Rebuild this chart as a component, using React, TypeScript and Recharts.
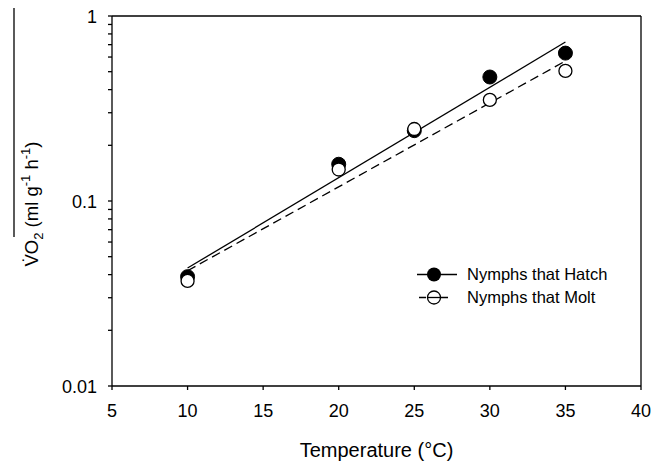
import { ComposedChart, XAxis, YAxis, Scatter, Line, ReferenceLine, Legend } from "recharts";

const FONT = '"Liberation Sans", Arial, sans-serif';

// measurements
const temps = [10, 20, 25, 30, 35];
const hatchVO2 = [0.039, 0.158, 0.24, 0.468, 0.63];
const moltVO2 = [0.037, 0.148, 0.245, 0.352, 0.505];

// regression lines (end points)
const fitTemps = [10, 35];
const hatchFitVO2 = [0.0434, 0.723];
const moltFitVO2 = [0.042, 0.571];

const xTicks = [5, 10, 15, 20, 25, 30, 35, 40];
const yTicks = [
  0.01, 0.02, 0.03, 0.04, 0.05, 0.06, 0.07, 0.08, 0.09,
  0.1, 0.2, 0.3, 0.4, 0.5, 0.6, 0.7, 0.8, 0.9, 1,
];
const yTickLabels = ["0.01", "0.1", "1"];

const hatchData = temps.map((t, i) => ({ t, v: hatchVO2[i] }));
const moltData = temps.map((t, i) => ({ t, v: moltVO2[i] }));
const hatchFit = fitTemps.map((t, i) => ({ t, v: hatchFitVO2[i] }));
const moltFit = fitTemps.map((t, i) => ({ t, v: moltFitVO2[i] }));

const XTick = ({ x, y, payload }: any) => (
  <text x={x} y={y} dy={27} textAnchor="middle" fontSize={18} fontFamily={FONT} fill="#000">
    {payload.value}
  </text>
);

const YTick = ({ x, y, payload }: any) => {
  const lbl = String(payload.value);
  if (!yTickLabels.includes(lbl)) return null;
  return (
    <text x={x - 11} y={y} dy={6.5} textAnchor="end" fontSize={18} fontFamily={FONT} fill="#000">
      {lbl}
    </text>
  );
};

const YLabel = ({ viewBox }: any) => {
  const cx = viewBox.x + 38;
  const cy = viewBox.y + viewBox.height / 2 + 3;
  return (
    <g>
      <line x1={viewBox.x + 14} y1={8} x2={viewBox.x + 14} y2={237} stroke="#000" strokeWidth={1.3} />
      <text
        x={cx}
        y={cy}
        transform={`rotate(-90 ${cx} ${cy})`}
        textAnchor="middle"
        fontSize={18.5}
        fontFamily={FONT}
        fill="#000"
      >
        <tspan>{"V\u0307O"}</tspan>
        <tspan fontSize={13} dy={5}>2</tspan>
        <tspan dy={-5}>{" (ml g"}</tspan>
        <tspan fontSize={13} dy={-8}>-1</tspan>
        <tspan dy={8}>{" h"}</tspan>
        <tspan fontSize={13} dy={-8}>-1</tspan>
        <tspan dy={8}>)</tspan>
      </text>
    </g>
  );
};

const XLabel = ({ viewBox }: any) => (
  <text
    x={viewBox.x + viewBox.width / 2}
    y={viewBox.y + 71}
    textAnchor="middle"
    fontSize={20}
    fontFamily={FONT}
    fill="#000"
  >
    Temperature (°C)
  </text>
);

const FilledDot = ({ cx, cy }: any) => <circle cx={cx} cy={cy} r={7} fill="#000" stroke="#000" strokeWidth={1} />;
const OpenDot = ({ cx, cy }: any) => <circle cx={cx} cy={cy} r={6.5} fill="#fff" stroke="#000" strokeWidth={1.3} />;

const LegendBox = () => (
  <div style={{ fontFamily: FONT, fontSize: 16.5, color: "#000", lineHeight: "23px" }}>
    <div style={{ display: "flex", alignItems: "center" }}>
      <svg width={50} height={23}>
        <line x1={0} y1={11.5} x2={40} y2={11.5} stroke="#000" strokeWidth={1.3} />
        <circle cx={17} cy={11.5} r={7} fill="#000" />
      </svg>
      <span>Nymphs that Hatch</span>
    </div>
    <div style={{ display: "flex", alignItems: "center" }}>
      <svg width={50} height={23}>
        <line x1={2} y1={11.5} x2={35} y2={11.5} stroke="#000" strokeWidth={1.3} strokeDasharray="7 4" />
        <circle cx={17} cy={11.5} r={6.5} fill="#fff" stroke="#000" strokeWidth={1.3} />
        <line x1={11} y1={11.5} x2={23} y2={11.5} stroke="#000" strokeWidth={1.3} />
      </svg>
      <span>Nymphs that Molt</span>
    </div>
  </div>
);

export default function App() {
  return (
    <div style={{ position: "absolute", left: 0, top: 0, background: "#fff" }}>
      <ComposedChart width={663} height={466} margin={{ top: 16, right: 22, bottom: 0, left: 0 }}>
        <XAxis
          type="number"
          dataKey="t"
          domain={[5, 40]}
          ticks={xTicks}
          interval={0}
          height={80}
          stroke="#000"
          strokeWidth={1.3}
          tickSize={4}
          tickMargin={0}
          tick={<XTick />}
          label={<XLabel />}
        />
        <YAxis
          type="number"
          dataKey="v"
          scale="log"
          domain={[0.01, 1]}
          allowDataOverflow
          ticks={yTicks}
          interval={0}
          width={112}
          stroke="#000"
          strokeWidth={1.3}
          tickSize={4}
          tickMargin={0}
          tick={<YTick />}
          label={<YLabel />}
        />
        <ReferenceLine y={1} stroke="#000" strokeWidth={1.3} />
        <ReferenceLine x={40} stroke="#000" strokeWidth={1.3} />
        <Line data={hatchFit} dataKey="v" stroke="#000" strokeWidth={1.3} dot={false} isAnimationActive={false} legendType="none" />
        <Line data={moltFit} dataKey="v" stroke="#000" strokeWidth={1.3} strokeDasharray="9 5" dot={false} isAnimationActive={false} legendType="none" />
        <Scatter data={hatchData} dataKey="v" shape={<FilledDot />} isAnimationActive={false} />
        <Scatter data={moltData} dataKey="v" shape={<OpenDot />} isAnimationActive={false} />
        <Legend
          layout="horizontal"
          verticalAlign="middle"
          align="center"
          content={<LegendBox />}
          wrapperStyle={{ position: "absolute", left: 417, top: 263, width: 230 }}
        />
      </ComposedChart>
    </div>
  );
}
